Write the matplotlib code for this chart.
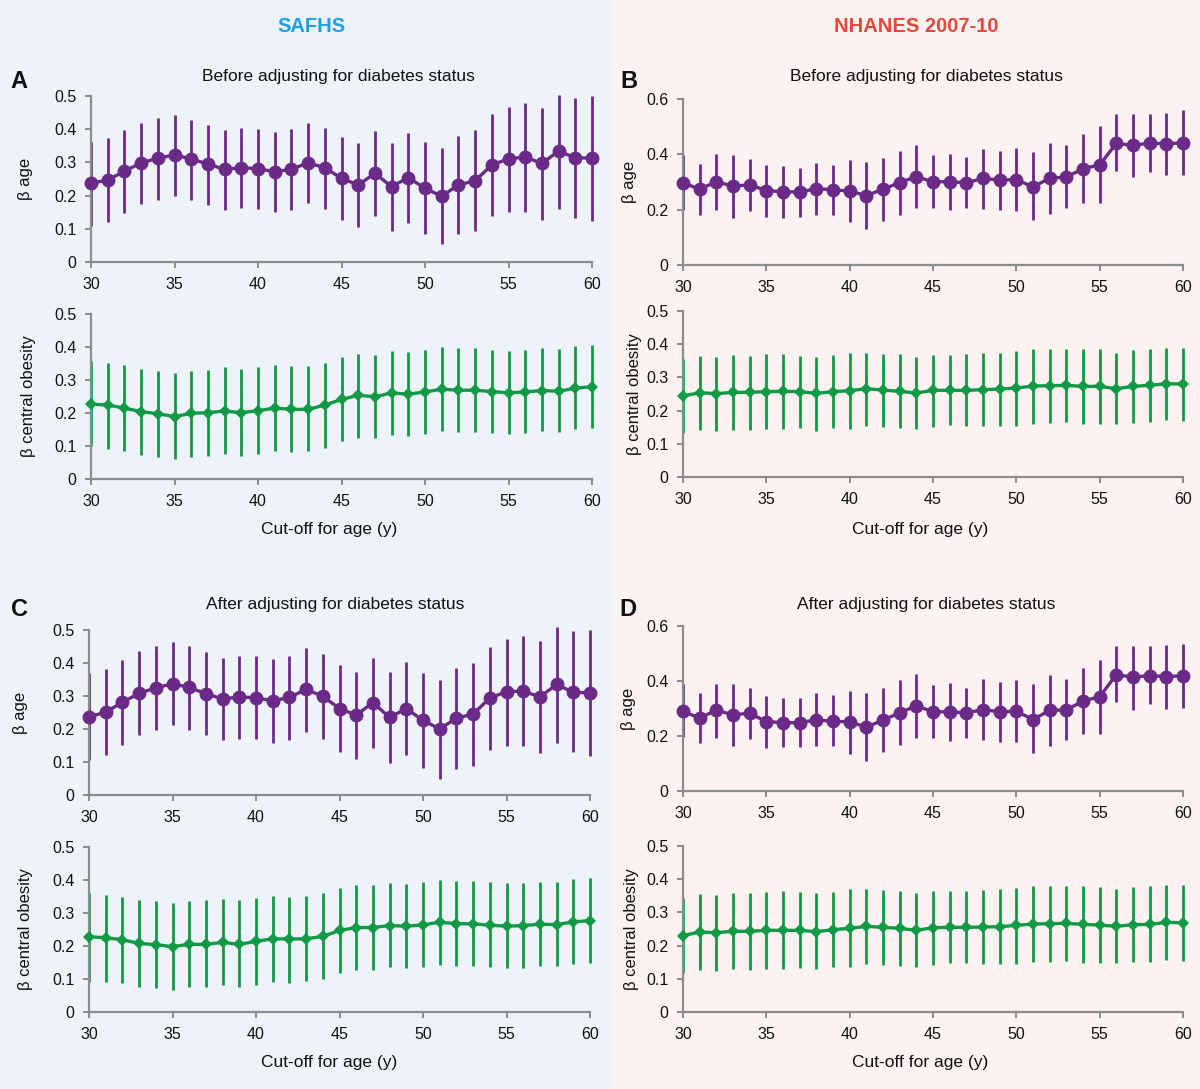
import matplotlib
matplotlib.use("Agg")
import matplotlib.pyplot as plt
from matplotlib.patches import Rectangle
import numpy as np

plt.rcParams['font.family'] = ['Liberation Sans', 'DejaVu Sans']

ages = list(range(30, 61))

# ---- SAFHS, before adjusting (A) ----
A_age = [0.237, 0.247, 0.273, 0.299, 0.312, 0.323, 0.310, 0.295, 0.279, 0.284, 0.281,
         0.272, 0.279, 0.299, 0.284, 0.252, 0.232, 0.267, 0.227, 0.254, 0.222, 0.198,
         0.232, 0.245, 0.292, 0.311, 0.316, 0.297, 0.334, 0.314, 0.313]
A_age_hi = [0.360, 0.373, 0.397, 0.420, 0.433, 0.442, 0.429, 0.414, 0.397, 0.404, 0.401,
            0.391, 0.400, 0.418, 0.405, 0.376, 0.357, 0.394, 0.357, 0.388, 0.360, 0.342,
            0.379, 0.397, 0.445, 0.468, 0.480, 0.465, 0.504, 0.493, 0.500]
A_age_lo = [0.108, 0.120, 0.149, 0.175, 0.188, 0.200, 0.187, 0.172, 0.158, 0.163, 0.161,
            0.151, 0.158, 0.177, 0.160, 0.127, 0.104, 0.138, 0.094, 0.117, 0.084, 0.055,
            0.085, 0.094, 0.138, 0.151, 0.151, 0.128, 0.161, 0.132, 0.124]
A_ob = [0.227, 0.224, 0.215, 0.204, 0.198, 0.189, 0.199, 0.201, 0.206, 0.201, 0.207,
        0.215, 0.211, 0.211, 0.224, 0.241, 0.254, 0.249, 0.261, 0.257, 0.264, 0.272,
        0.269, 0.269, 0.265, 0.261, 0.264, 0.268, 0.266, 0.275, 0.280]
A_ob_hi = [0.358, 0.352, 0.346, 0.334, 0.328, 0.322, 0.328, 0.331, 0.338, 0.332, 0.338,
           0.346, 0.343, 0.342, 0.352, 0.370, 0.379, 0.376, 0.387, 0.385, 0.391, 0.400,
           0.397, 0.397, 0.392, 0.388, 0.390, 0.396, 0.395, 0.402, 0.407]
A_ob_lo = [0.101, 0.090, 0.085, 0.073, 0.067, 0.060, 0.068, 0.070, 0.075, 0.069, 0.077,
           0.085, 0.083, 0.085, 0.094, 0.114, 0.125, 0.124, 0.134, 0.131, 0.137, 0.146,
           0.143, 0.143, 0.140, 0.136, 0.139, 0.144, 0.143, 0.151, 0.155]

# ---- NHANES, before adjusting (B) ----
B_age = [0.297, 0.274, 0.301, 0.285, 0.290, 0.269, 0.265, 0.264, 0.276, 0.272, 0.267,
         0.251, 0.274, 0.298, 0.319, 0.301, 0.301, 0.297, 0.313, 0.307, 0.309, 0.282,
         0.314, 0.318, 0.348, 0.362, 0.440, 0.432, 0.441, 0.438, 0.442]
B_age_hi = [0.396, 0.366, 0.400, 0.396, 0.383, 0.361, 0.359, 0.352, 0.370, 0.361, 0.378,
            0.371, 0.385, 0.412, 0.433, 0.396, 0.402, 0.389, 0.419, 0.411, 0.422, 0.407,
            0.441, 0.432, 0.474, 0.503, 0.544, 0.544, 0.547, 0.549, 0.559]
B_age_lo = [0.200, 0.179, 0.199, 0.171, 0.195, 0.172, 0.171, 0.175, 0.181, 0.181, 0.156,
            0.130, 0.159, 0.182, 0.206, 0.206, 0.199, 0.206, 0.204, 0.199, 0.196, 0.161,
            0.185, 0.206, 0.223, 0.223, 0.341, 0.319, 0.335, 0.325, 0.326]
B_ob = [0.244, 0.254, 0.251, 0.255, 0.255, 0.257, 0.258, 0.257, 0.252, 0.257, 0.260,
        0.266, 0.262, 0.258, 0.253, 0.261, 0.261, 0.261, 0.263, 0.265, 0.268, 0.274,
        0.275, 0.276, 0.273, 0.273, 0.266, 0.273, 0.276, 0.281, 0.280]
B_ob_hi = [0.354, 0.365, 0.362, 0.366, 0.365, 0.370, 0.370, 0.365, 0.362, 0.366, 0.374,
           0.375, 0.371, 0.369, 0.361, 0.367, 0.366, 0.369, 0.373, 0.375, 0.379, 0.386,
           0.386, 0.386, 0.385, 0.385, 0.375, 0.382, 0.386, 0.389, 0.390]
B_ob_lo = [0.134, 0.142, 0.139, 0.143, 0.142, 0.144, 0.145, 0.147, 0.139, 0.148, 0.146,
           0.155, 0.152, 0.149, 0.145, 0.151, 0.156, 0.154, 0.154, 0.154, 0.155, 0.161,
           0.163, 0.165, 0.160, 0.160, 0.159, 0.163, 0.165, 0.172, 0.168]

# ---- SAFHS, after adjusting (C) ----
C_age = [0.237, 0.251, 0.281, 0.308, 0.325, 0.337, 0.326, 0.307, 0.291, 0.297, 0.295,
         0.285, 0.296, 0.320, 0.299, 0.262, 0.242, 0.280, 0.235, 0.262, 0.226, 0.200,
         0.233, 0.245, 0.294, 0.313, 0.315, 0.297, 0.335, 0.311, 0.310]
C_age_hi = [0.369, 0.381, 0.409, 0.435, 0.451, 0.464, 0.451, 0.433, 0.416, 0.422, 0.420,
            0.412, 0.421, 0.446, 0.426, 0.393, 0.373, 0.415, 0.373, 0.403, 0.370, 0.348,
            0.384, 0.399, 0.450, 0.472, 0.482, 0.467, 0.508, 0.496, 0.500]
C_age_lo = [0.106, 0.121, 0.153, 0.181, 0.197, 0.212, 0.198, 0.181, 0.166, 0.170, 0.169,
            0.159, 0.167, 0.190, 0.169, 0.131, 0.109, 0.143, 0.096, 0.121, 0.081, 0.049,
            0.080, 0.089, 0.135, 0.148, 0.147, 0.126, 0.158, 0.129, 0.119]
C_ob = [0.228, 0.225, 0.219, 0.208, 0.204, 0.198, 0.205, 0.205, 0.211, 0.205, 0.214,
        0.222, 0.221, 0.222, 0.229, 0.247, 0.256, 0.256, 0.262, 0.260, 0.264, 0.272,
        0.268, 0.267, 0.263, 0.260, 0.262, 0.266, 0.265, 0.273, 0.277]
C_ob_hi = [0.362, 0.355, 0.350, 0.339, 0.335, 0.330, 0.336, 0.338, 0.342, 0.338, 0.344,
           0.351, 0.349, 0.351, 0.360, 0.375, 0.384, 0.384, 0.391, 0.389, 0.393, 0.400,
           0.396, 0.396, 0.393, 0.390, 0.391, 0.395, 0.394, 0.402, 0.405]
C_ob_lo = [0.092, 0.092, 0.088, 0.077, 0.074, 0.067, 0.075, 0.076, 0.081, 0.075, 0.083,
           0.092, 0.089, 0.093, 0.101, 0.119, 0.127, 0.128, 0.135, 0.133, 0.136, 0.142,
           0.139, 0.139, 0.137, 0.133, 0.134, 0.139, 0.138, 0.145, 0.149]

# ---- NHANES, after adjusting (D) ----
D_age = [0.290, 0.265, 0.294, 0.277, 0.283, 0.252, 0.249, 0.248, 0.259, 0.253, 0.252,
         0.232, 0.258, 0.284, 0.310, 0.288, 0.288, 0.284, 0.296, 0.288, 0.290, 0.260,
         0.293, 0.295, 0.327, 0.343, 0.423, 0.414, 0.420, 0.416, 0.419]
D_age_hi = [0.389, 0.357, 0.390, 0.388, 0.374, 0.345, 0.340, 0.337, 0.356, 0.348, 0.365,
            0.356, 0.373, 0.403, 0.425, 0.385, 0.394, 0.375, 0.408, 0.397, 0.405, 0.389,
            0.423, 0.408, 0.448, 0.475, 0.526, 0.526, 0.526, 0.530, 0.536]
D_age_lo = [0.197, 0.173, 0.193, 0.165, 0.190, 0.158, 0.159, 0.159, 0.164, 0.163, 0.136,
            0.109, 0.141, 0.166, 0.193, 0.191, 0.181, 0.191, 0.187, 0.180, 0.180, 0.137,
            0.164, 0.187, 0.208, 0.208, 0.322, 0.295, 0.315, 0.298, 0.301]
D_ob = [0.230, 0.241, 0.239, 0.243, 0.243, 0.246, 0.246, 0.246, 0.242, 0.248, 0.252,
        0.258, 0.255, 0.252, 0.246, 0.254, 0.255, 0.255, 0.256, 0.257, 0.261, 0.265,
        0.266, 0.267, 0.264, 0.262, 0.258, 0.263, 0.264, 0.270, 0.269]
D_ob_hi = [0.343, 0.355, 0.353, 0.358, 0.357, 0.362, 0.363, 0.360, 0.357, 0.361, 0.369,
           0.370, 0.367, 0.364, 0.358, 0.364, 0.363, 0.365, 0.368, 0.370, 0.374, 0.379,
           0.379, 0.379, 0.379, 0.377, 0.370, 0.376, 0.379, 0.382, 0.382]
D_ob_lo = [0.118, 0.126, 0.125, 0.129, 0.128, 0.130, 0.131, 0.134, 0.129, 0.135, 0.136,
           0.144, 0.143, 0.140, 0.137, 0.143, 0.148, 0.147, 0.144, 0.144, 0.146, 0.152,
           0.152, 0.154, 0.149, 0.147, 0.148, 0.152, 0.151, 0.157, 0.154]

x_ticks = [30, 35, 40, 45, 50, 55, 60]
col_titles = ["SAFHS", "NHANES 2007-10"]
row_titles = ["Before adjusting for diabetes status", "After adjusting for diabetes status"]
panel_letters = ["A", "B", "C", "D"]
xlabel_text = "Cut-off for age (y)"
ylabel_age = "\u03b2 age"
ylabel_ob = "\u03b2 central obesity"

PURPLE = "#6B2A88"
GREEN = "#119A45"
SPINE = "#8C8C8C"
BLUE_T = "#1BA1E2"
RED_T = "#E2493A"
BG_L = "#EEF3FA"
BG_R = "#FCF2F1"
TXT = "#111111"

W, H = 1200, 1089
fig = plt.figure(figsize=(W / 100, H / 100), dpi=100)

# background halves in an axes behind everything
bg = fig.add_axes([0, 0, 1, 1], zorder=-10)
bg.set_xlim(0, W)
bg.set_ylim(H, 0)
bg.axis('off')
bg.add_patch(Rectangle((0, 0), 612, H, facecolor=BG_L, edgecolor='none'))
bg.add_patch(Rectangle((612, 0), W - 612, H, facecolor=BG_R, edgecolor='none'))


def add_ax(x0, x1, ytop, ybot):
    return fig.add_axes([x0 / W, 1 - ybot / H, (x1 - x0) / W, (ybot - ytop) / H])


def style(ax, ymax, ystep):
    ax.set_facecolor('none')
    for s in ['top', 'right']:
        ax.spines[s].set_visible(False)
    for s in ['left', 'bottom']:
        ax.spines[s].set_color(SPINE)
        ax.spines[s].set_linewidth(1.6)
    ax.set_xlim(30, 60)
    ax.set_ylim(0, ymax)
    ax.set_xticks(x_ticks)
    ax.set_yticks(np.round(np.arange(0, ymax + 1e-9, ystep), 2))
    ax.yaxis.set_major_formatter(matplotlib.ticker.FuncFormatter(
        lambda v, p: "0" if abs(v) < 1e-9 else f"{v:g}"))
    ax.tick_params(axis='both', direction='out', length=4.5, width=1.4, color=SPINE,
                   labelsize=11.5, pad=6, labelcolor=TXT)


def draw(ax, y, lo, hi, color, marker, ms):
    ax.vlines(ages, lo, hi, color=color, linewidth=2.0, zorder=2, clip_on=False)
    ax.plot(ages, y, color=color, linewidth=2.4, marker=marker, markersize=ms,
            markeredgewidth=0, zorder=3, clip_on=False)


def set_ylabel_px(ax, text, xpix, x0, x1):
    # xpix is the desired centre of the rotated label; label anchor is its right edge
    ax.set_ylabel(text, fontsize=12, color=TXT)
    ax.yaxis.set_label_coords((xpix + 8 - x0) / (x1 - x0), 0.5)


# panel layouts: (x0, x1, top_ytop, top_ybot, bot_ytop, bot_ybot)
layouts = [
    (91, 592, 96, 262, 314, 479),
    (683, 1183, 99, 265, 311, 477),
    (89, 590, 630, 795, 847, 1012),
    (683, 1183, 626, 791, 846, 1012),
]
data = [
    (A_age, A_age_lo, A_age_hi, A_ob, A_ob_lo, A_ob_hi, 0.5, 0.1),
    (B_age, B_age_lo, B_age_hi, B_ob, B_ob_lo, B_ob_hi, 0.6, 0.2),
    (C_age, C_age_lo, C_age_hi, C_ob, C_ob_lo, C_ob_hi, 0.5, 0.1),
    (D_age, D_age_lo, D_age_hi, D_ob, D_ob_lo, D_ob_hi, 0.6, 0.2),
]
# text positions in pixels
ylab_top_x = [25, 629, 20, 628]
ylab_bot_x = [28, 634, 25, 631]
title_pos = [(338, 76), (926, 76), (335, 605), (926, 605)]
xlab_pos = [(329, 529), (920, 529), (329, 1062), (920, 1062)]
letter_pos = [(19, 81), (629, 81), (19, 610), (628, 610)]

for i, (lay, d) in enumerate(zip(layouts, data)):
    x0, x1, t1, b1, t2, b2 = lay
    ya, yal, yah, yo, yol, yoh, ymax, ystep = d
    ax1 = add_ax(x0, x1, t1, b1)
    style(ax1, ymax, ystep)
    draw(ax1, ya, yal, yah, PURPLE, 'o', 10)
    set_ylabel_px(ax1, ylabel_age, ylab_top_x[i], x0, x1)

    ax2 = add_ax(x0, x1, t2, b2)
    style(ax2, 0.5, 0.1)
    draw(ax2, yo, yol, yoh, GREEN, 'D', 6.5)
    set_ylabel_px(ax2, ylabel_ob, ylab_bot_x[i], x0, x1)

    tx, ty = title_pos[i]
    fig.text(tx / W, 1 - ty / H, row_titles[i // 2], fontsize=12.5, color=TXT,
             ha='center', va='center')
    lx, ly = xlab_pos[i]
    fig.text(lx / W, 1 - ly / H, xlabel_text, fontsize=12.5, color=TXT,
             ha='center', va='center')
    px, py = letter_pos[i]
    fig.text(px / W, 1 - py / H, panel_letters[i], fontsize=17, fontweight='bold',
             ha='center', va='center', color=TXT)

fig.text(311 / W, 1 - 26 / H, col_titles[0], fontsize=14.5, fontweight='bold',
         color=BLUE_T, ha='center', va='center')
fig.text(916 / W, 1 - 26 / H, col_titles[1], fontsize=14.5, fontweight='bold',
         color=RED_T, ha='center', va='center')

fig.savefig("out.png", dpi=100)
